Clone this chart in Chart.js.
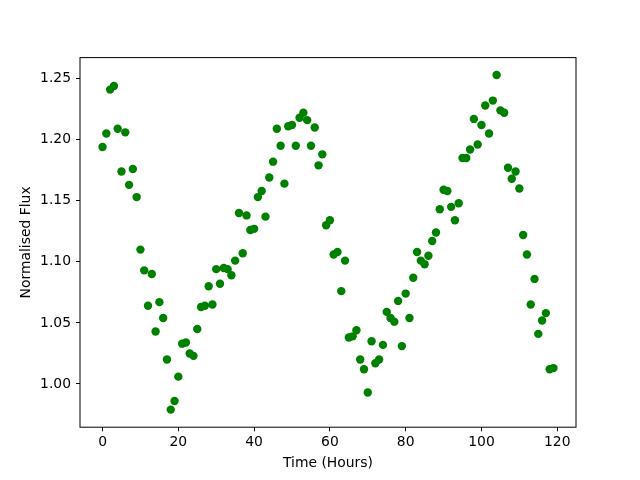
<!DOCTYPE html>
<html>
<head>
<meta charset="utf-8">
<script src="https://cdn.jsdelivr.net/npm/chart.js@4"></script>
<style>
  html, body { margin: 0; padding: 0; background: #fff; }
  #wrap { width: 640px; height: 480px; }
</style>
</head>
<body>
<div id="wrap"><canvas id="chart" width="640" height="480"></canvas></div>
<script>
// Datos
const hours = [
    0, 1, 2, 3, 4, 5, 6, 7, 8, 9, 10, 11, 12, 13, 14, 15, 16, 17, 18, 19,
    20, 21, 22, 23, 24, 25, 26, 27, 28, 29, 30, 31, 32, 33, 34, 35, 36, 37, 38, 39,
    40, 41, 42, 43, 44, 45, 46, 47, 48, 49, 50, 51, 52, 53, 54, 55, 56, 57, 58, 59,
    60, 61, 62, 63, 64, 65, 66, 67, 68, 69, 70, 71, 72, 73, 74, 75, 76, 77, 78, 79,
    80, 81, 82, 83, 84, 85, 86, 87, 88, 89, 90, 91, 92, 93, 94, 95, 96, 97, 98, 99,
    100, 101, 102, 103, 104, 105, 106, 107, 108, 109, 110, 111, 112, 113, 114, 115, 116, 117, 118, 119
];

const flux = [
    1.194, 1.205, 1.241, 1.244, 1.209, 1.174, 1.206, 1.163, 1.176, 1.153,
    1.110, 1.093, 1.064, 1.090, 1.043, 1.067, 1.054, 1.020, 0.979, 0.986,
    1.006, 1.033, 1.034, 1.025, 1.023, 1.045, 1.063, 1.064, 1.080, 1.065,
    1.094, 1.082, 1.095, 1.094, 1.089, 1.101, 1.140, 1.107, 1.138, 1.126,
    1.127, 1.153, 1.158, 1.137, 1.169, 1.182, 1.209, 1.195, 1.164, 1.211,
    1.212, 1.195, 1.218, 1.222, 1.216, 1.195, 1.210, 1.179, 1.188, 1.130,
    1.134, 1.106, 1.108, 1.076, 1.101, 1.038, 1.039, 1.044, 1.020, 1.012,
    0.993, 1.035, 1.017, 1.020, 1.032, 1.059, 1.054, 1.051, 1.068, 1.031,
    1.074, 1.054, 1.087, 1.108, 1.101, 1.098, 1.105, 1.117, 1.124, 1.143,
    1.159, 1.158, 1.145, 1.134, 1.148, 1.185, 1.185, 1.192, 1.217, 1.196,
    1.212, 1.228, 1.205, 1.232, 1.253, 1.224, 1.222, 1.177, 1.168, 1.174,
    1.160, 1.122, 1.106, 1.065, 1.086, 1.041, 1.052, 1.058, 1.012, 1.013
];

const xTicks = [0, 20, 40, 60, 80, 100, 120];
const yTicks = [1.00, 1.05, 1.10, 1.15, 1.20, 1.25];

const xTitle = 'Time (Hours)';
const yTitle = 'Normalised Flux';

// Estilo tipo matplotlib
const FONT = { family: "'DejaVu Sans', sans-serif", size: 13.9 };
Chart.defaults.color = '#000';
Chart.defaults.font.family = FONT.family;
Chart.defaults.font.size = FONT.size;

// Marco completo alrededor del área del gráfico
const framePlugin = {
    id: 'frame',
    afterDraw(chart) {
        const { ctx, chartArea: a } = chart;
        ctx.save();
        ctx.strokeStyle = '#000';
        ctx.lineWidth = 1;
        ctx.strokeRect(a.left, a.top, a.right - a.left, a.bottom - a.top);
        ctx.restore();
    }
};

const points = hours.map((h, i) => ({ x: h, y: flux[i] }));

const ctx = document.getElementById('chart').getContext('2d');
new Chart(ctx, {
    type: 'scatter',
    data: {
        datasets: [{
            data: points,
            backgroundColor: '#008000',
            borderWidth: 0,
            pointRadius: 4.2,
            pointHoverRadius: 4.2,
        }],
    },
    options: {
        responsive: false,
        animation: false,
        layout: {
            padding: { top: 57.6, right: 64, bottom: 0, left: 0 },
        },
        plugins: {
            legend: { display: false },
            tooltip: { enabled: false },
        },
        scales: {
            x: {
                type: 'linear',
                min: -5.95,
                max: 124.95,
                afterBuildTicks: scale => { scale.ticks = xTicks.map(v => ({ value: v })); },
                afterFit: scale => { scale.height = 52.8; },
                border: { display: false },
                grid: { drawOnChartArea: false, drawTicks: true, tickLength: 4, color: '#000', tickWidth: 1 },
                ticks: { padding: 3, font: FONT, color: '#000', maxRotation: 0 },
                title: { display: true, text: xTitle, font: FONT, color: '#000', padding: { top: 0, bottom: 8 } },
            },
            y: {
                type: 'linear',
                min: 0.9646,
                max: 1.2672,
                afterBuildTicks: scale => { scale.ticks = yTicks.map(v => ({ value: v })); },
                afterFit: scale => { scale.width = 80; },
                border: { display: false },
                grid: { drawOnChartArea: false, drawTicks: true, tickLength: 4, color: '#000', tickWidth: 1 },
                ticks: {
                    padding: 5,
                    font: FONT,
                    color: '#000',
                    callback: v => Number(v).toFixed(2),
                },
                title: { display: true, text: yTitle, font: FONT, color: '#000', padding: { top: 18, bottom: 0 } },
            },
        },
    },
    plugins: [framePlugin],
});
</script>
</body>
</html>
